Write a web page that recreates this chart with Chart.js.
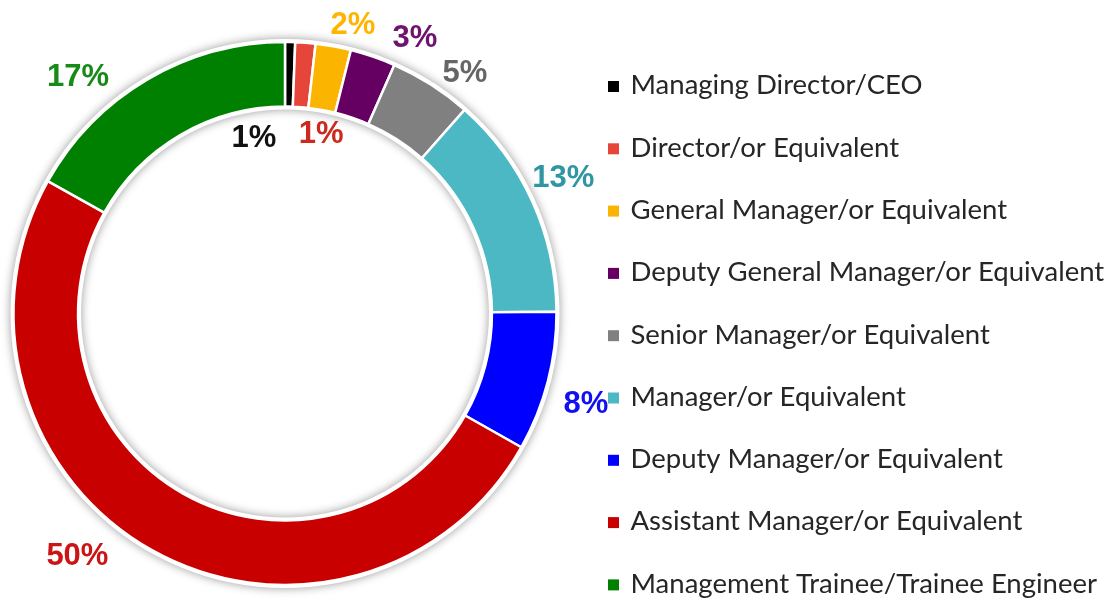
<!DOCTYPE html>
<html>
<head>
<meta charset="utf-8">
<title>Employee Levels</title>
<script src="https://cdn.jsdelivr.net/npm/chart.js@4.4.0/dist/chart.umd.min.js"></script>
<style>
    body { margin: 0; background: #ffffff; }
    #wrap { width: 1115px; height: 600px; position: relative; }
</style>
</head>
<body>
<div id="wrap">
    <canvas id="levelChart" width="1115" height="600"></canvas>
</div>
<script>
// Data
const categories = [
    'Managing Director/CEO',
    'Director/or Equivalent',
    'General Manager/or Equivalent',
    'Deputy General Manager/or Equivalent',
    'Senior Manager/or Equivalent',
    'Manager/or Equivalent',
    'Deputy Manager/or Equivalent',
    'Assistant Manager/or Equivalent',
    'Management Trainee/Trainee Engineer'
];
const shares = [0.6, 1.2, 2.1, 2.7, 4.9, 13.4, 8.3, 49.9, 16.9];

// Styles
const sliceColors = ['#000000', '#e6453a', '#fbb400', '#650062', '#808080', '#4bb8c4', '#0000ff', '#c80000', '#008000'];
const labelColors = ['#111111', '#cc2a1e', '#ffb500', '#6e1470', '#666666', '#2f97a3', '#1010f0', '#cc1414', '#178a17'];
// where each percentage sits: [angle in degrees clockwise from top, distance from centre]
const labelPlacement = [[-10, 179], [11.3, 184], [13.2, 297], [25.2, 305], [36.7, 301], [63.9, 310], [106.6, 314], [220.6, 319], [318.9, 315]];

// Soft white ring with a grey glow behind the slices
const ringShadow = {
    id: 'ringShadow',
    beforeDatasetsDraw(chart) {
        const arc = chart.getDatasetMeta(0).data[0];
        if (!arc) return;
        const ctx = chart.ctx;
        ctx.save();
        ctx.shadowColor = 'rgba(0, 0, 0, 0.4)';
        ctx.shadowBlur = 10;
        ctx.fillStyle = '#ffffff';
        ctx.beginPath();
        ctx.arc(arc.x, arc.y, arc.outerRadius + 3, 0, Math.PI * 2);
        ctx.arc(arc.x, arc.y, arc.innerRadius - 3, 0, Math.PI * 2, true);
        ctx.fill();
        ctx.restore();
    }
};

// Percent labels around the ring
const percentLabels = {
    id: 'percentLabels',
    afterDatasetsDraw(chart) {
        const arc = chart.getDatasetMeta(0).data[0];
        if (!arc) return;
        const ctx = chart.ctx;
        ctx.save();
        ctx.font = 'bold 31px "Liberation Sans", Arial, sans-serif';
        ctx.textAlign = 'center';
        ctx.textBaseline = 'middle';
        shares.forEach((v, i) => {
            const a = labelPlacement[i][0] * Math.PI / 180;
            const r = labelPlacement[i][1];
            ctx.fillStyle = labelColors[i];
            ctx.fillText(Math.round(v) + '%', arc.x + r * Math.sin(a), arc.y - r * Math.cos(a) + 1);
        });
        ctx.restore();
    }
};

// Legend drawn on the right, one row per category
const sideLegend = {
    id: 'sideLegend',
    afterDraw(chart) {
        const ctx = chart.ctx;
        const startX = chart.chartArea.right + 38;
        const startY = 86.5;
        const step = 62.3;
        ctx.save();
        ctx.font = '27.5px Lato, "Open Sans", sans-serif';
        ctx.textBaseline = 'middle';
        ctx.textAlign = 'left';
        chart.data.labels.forEach((label, i) => {
            const y = startY + i * step;
            ctx.fillStyle = chart.data.datasets[0].backgroundColor[i];
            ctx.fillRect(startX, y - 5.5, 11, 11);
            ctx.fillStyle = '#262626';
            ctx.fillText(label, startX + 22.5, y - 1);
        });
        ctx.restore();
    }
};

const ctx = document.getElementById('levelChart').getContext('2d');
const levelChart = new Chart(ctx, {
    type: 'doughnut',
    data: {
        labels: categories,
        datasets: [{
            data: shares,
            backgroundColor: sliceColors,
            borderColor: '#ffffff',
            borderWidth: 2.5,
            radius: 271.5,
            cutout: 206
        }]
    },
    options: {
        responsive: false,
        animation: false,
        layout: { padding: { left: 0, right: 545, top: 42, bottom: 15 } },
        plugins: {
            legend: { display: false },
            tooltip: { enabled: false }
        }
    },
    plugins: [ringShadow, percentLabels, sideLegend]
});
</script>
</body>
</html>
